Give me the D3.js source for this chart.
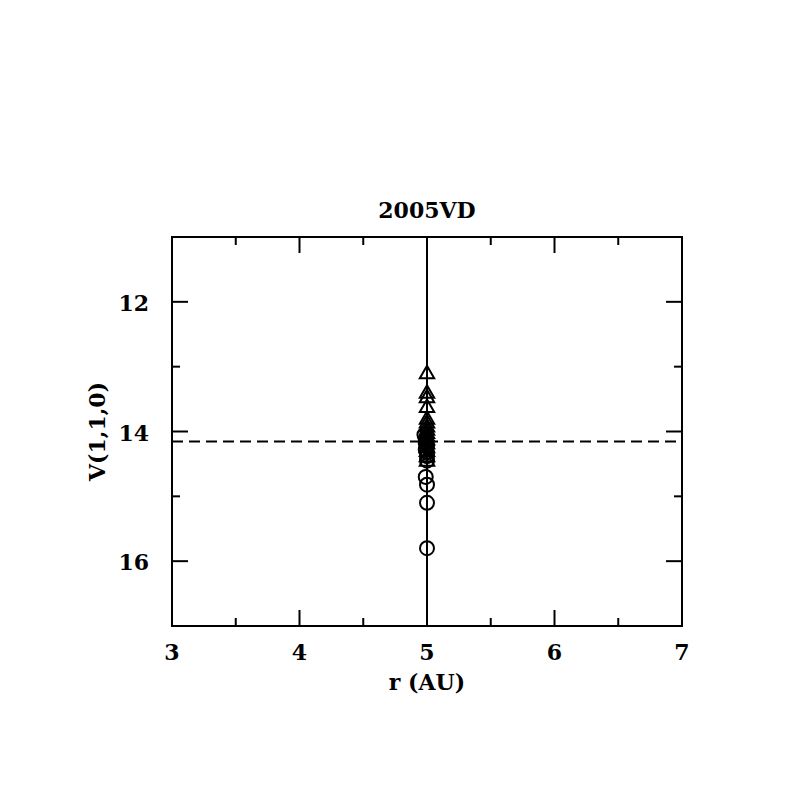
<!DOCTYPE html>
<html>
<head>
<meta charset="utf-8">
<script src="https://cdn.jsdelivr.net/npm/d3@7"></script>
<style>
  body { margin: 0; background: #fff; }
  text { font-family: "DejaVu Serif", serif; font-weight: bold; fill: #000; }
</style>
</head>
<body>
<script>
// observations of 2005VD, r in AU vs V(1,1,0)
const triR = [5, 5, 5, 5, 5, 5, 5, 5, 5, 5, 5, 5, 5, 5, 5, 5];
const triV = [13.1, 13.4, 13.47, 13.62, 13.8, 13.86, 13.92, 13.97, 14.02, 14.07, 14.12, 14.18, 14.24, 14.3, 14.38, 14.45];
const circR = [4.98, 4.99, 4.99, 5, 4.99, 5, 5, 5, 4.99, 5, 5, 5];
const circV = [14.05, 14.12, 14.18, 14.22, 14.28, 14.32, 14.38, 14.45, 14.7, 14.82, 15.1, 15.8];
const meanV = 14.155;
const xTicks = [3, 4, 5, 6, 7];
const yTicks = [12, 14, 16];

const W = 797, H = 797;
const mLeft = 172, mRight = 682, mTop = 237, mBottom = 626;

const svg = d3.select('body').append('svg')
  .attr('width', W)
  .attr('height', H);

const x = d3.scaleLinear().domain([3, 7]).range([mLeft, mRight]);
const y = d3.scaleLinear().domain([11, 17]).range([mTop, mBottom]);

// frame
svg.append('rect')
  .attr('x', mLeft).attr('y', mTop)
  .attr('width', mRight - mLeft).attr('height', mBottom - mTop)
  .attr('fill', 'none').attr('stroke', '#000').attr('stroke-width', 2);

// ticks on all sides, pointing in
const xMinor = d3.range(3, 7.01, 0.5);
const yMinor = d3.range(11, 17.01, 1);
const tickLayer = svg.append('g').attr('stroke', '#000').attr('stroke-width', 2);
xMinor.forEach(v => {
  const len = Number.isInteger(v) ? 16 : 8;
  tickLayer.append('line').attr('x1', x(v)).attr('x2', x(v)).attr('y1', mBottom).attr('y2', mBottom - len);
  tickLayer.append('line').attr('x1', x(v)).attr('x2', x(v)).attr('y1', mTop).attr('y2', mTop + len);
});
yMinor.forEach(v => {
  const len = v % 2 === 0 ? 16 : 8;
  tickLayer.append('line').attr('y1', y(v)).attr('y2', y(v)).attr('x1', mLeft).attr('x2', mLeft + len);
  tickLayer.append('line').attr('y1', y(v)).attr('y2', y(v)).attr('x1', mRight).attr('x2', mRight - len);
});

// tick labels
svg.selectAll('.xlab')
  .data(xTicks)
  .enter()
  .append('text')
  .attr('x', d => x(d))
  .attr('y', 660)
  .attr('text-anchor', 'middle')
  .attr('font-size', 22)
  .text(d => d);

svg.selectAll('.ylab')
  .data(yTicks)
  .enter()
  .append('text')
  .attr('x', 149)
  .attr('y', d => y(d) + 9)
  .attr('text-anchor', 'end')
  .attr('font-size', 22)
  .text(d => d);

// titles
svg.append('text')
  .attr('x', (mLeft + mRight) / 2).attr('y', 218)
  .attr('text-anchor', 'middle').attr('font-size', 22)
  .text('2005VD');

svg.append('text')
  .attr('x', (mLeft + mRight) / 2).attr('y', 690)
  .attr('text-anchor', 'middle').attr('font-size', 22)
  .text('r (AU)');

svg.append('text')
  .attr('transform', `translate(105,${(mTop + mBottom) / 2}) rotate(-90)`)
  .attr('text-anchor', 'middle').attr('font-size', 22)
  .text('V(1,1,0)');

// vertical line at r = 5
svg.append('line')
  .attr('x1', x(5)).attr('x2', x(5))
  .attr('y1', mTop).attr('y2', mBottom)
  .attr('stroke', '#000').attr('stroke-width', 2);

// dashed mean line
svg.append('line')
  .attr('x1', mLeft).attr('x2', mRight)
  .attr('y1', y(meanV)).attr('y2', y(meanV))
  .attr('stroke', '#000').attr('stroke-width', 2)
  .attr('stroke-dasharray', '11,6');

// circles
svg.selectAll('.circ')
  .data(circV)
  .enter()
  .append('circle')
  .attr('cx', (d, i) => x(circR[i]))
  .attr('cy', d => y(d))
  .attr('r', 7)
  .attr('fill', 'none')
  .attr('stroke', '#000')
  .attr('stroke-width', 2);

// triangles
const tri = d3.symbol().type(d3.symbolTriangle).size(90);
svg.selectAll('.tri')
  .data(triV)
  .enter()
  .append('path')
  .attr('d', tri)
  .attr('transform', (d, i) => `translate(${x(triR[i])},${y(d) + 1})`)
  .attr('fill', 'none')
  .attr('stroke', '#000')
  .attr('stroke-width', 2);
</script>
</body>
</html>
